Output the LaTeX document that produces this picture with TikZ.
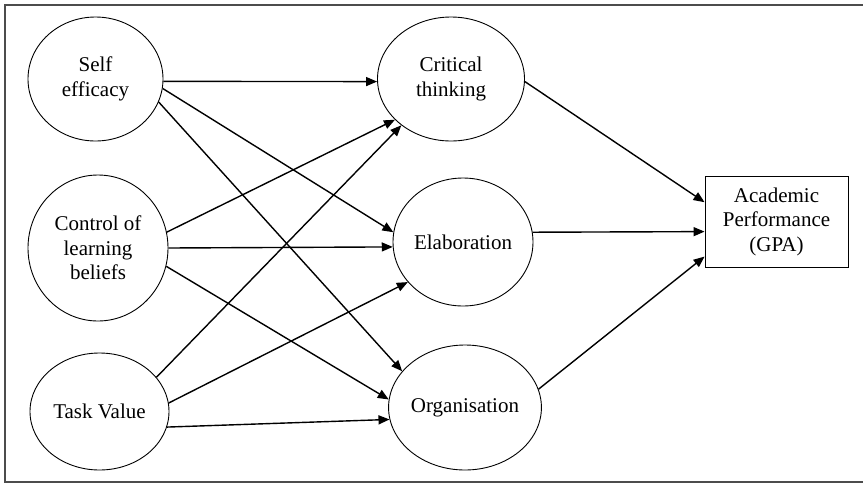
\documentclass[tikz,border=0pt]{standalone}
\usepackage{fontspec}
\setmainfont{Liberation Serif}
\usepackage{tikz}
\usetikzlibrary{positioning, arrows.meta, shapes.geometric}

\begin{document}
\begin{tikzpicture}[x=1pt, y=-1pt, >={Triangle[length=11pt,width=9pt]},
        var/.style={draw, ellipse, line width=0.9pt, inner sep=0pt, align=center, font=\fontsize{21}{24.5}\selectfont},
        outc/.style={draw, rectangle, line width=0.9pt, inner sep=0pt, align=center, font=\fontsize{21}{24.5}\selectfont},
        link/.style={->, line width=1.4pt}]
        \useasboundingbox (0,0) rectangle (863,483);
        \draw[line width=1.5pt, black!70] (863,5) -- (5,5) -- (5,482) -- (863,482);
        % predictors
        \node[var, minimum width=135pt, minimum height=124pt] (SE) at (95.5,79) {Self\\efficacy};
        \node[var, minimum width=140pt, minimum height=146pt] (CL) at (98,248) {Control of\\learning\\beliefs};
        \node[var, minimum width=139pt, minimum height=117pt] (TV) at (99.5,411.5) {Task Value};
        % strategies
        \node[var, minimum width=147pt, minimum height=124pt] (CT) at (451,79) {Critical\\thinking};
        \node[var, minimum width=140pt, minimum height=128pt] (EL) at (463,242) {Elaboration};
        \node[var, minimum width=135pt, minimum height=125pt] (OR) at (465,407.5) {Organisation};
        % outcome
        \node[outc, minimum width=143pt, minimum height=91pt] (AP) at (776.5,221.5) {Academic\\Performance\\(GPA)};
        \draw[link] (SE.-2) -- (CT.182);
        \draw[link] (SE.-8) -- (EL.172);
        \draw[link] (SE.-20) -- (OR.150);
        \draw[link] (CL.13) -- (CT.216);
        \draw[link] (CL.0) -- (EL.184);
        \draw[link] (CL.-15) -- (OR.174.5);
        \draw[link] (TV.31.4) -- (CT.223.4);
        \draw[link] (TV.7.7) -- (EL.216.2);
        \draw[link] (TV.-13.4) -- (OR.189);
        \draw[link] (CT.-2.3) -- (AP.165.5);
        \draw[link] (EL.8.1) -- (AP.188.4);
        \draw[link] (OR.14.6) -- (AP.206.4);
    \end{tikzpicture}
\end{document}
